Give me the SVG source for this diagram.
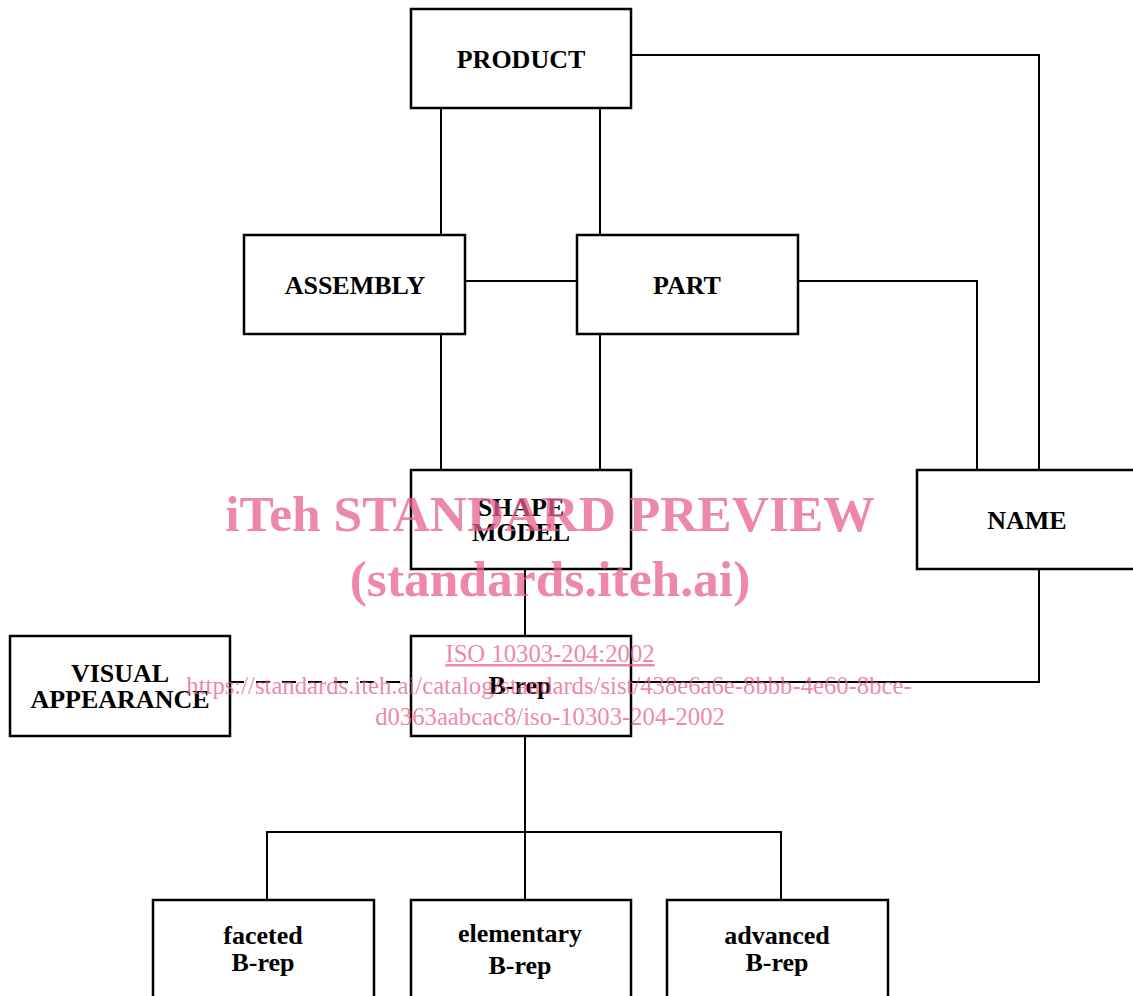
<svg xmlns="http://www.w3.org/2000/svg" width="1133" height="996" viewBox="0 0 1133 996">
<style>
.box{fill:#fff;stroke:#000;stroke-width:2.5}
.lbl{font-family:"Liberation Serif",serif;font-weight:bold;font-size:26px;fill:#000;text-anchor:middle}
.ln{fill:none;stroke:#000;stroke-width:2}
.wm{font-family:"Liberation Serif",serif;fill:#e8608e;fill-opacity:0.75;text-anchor:middle}
</style>
<rect width="1133" height="996" fill="#fff"/>
<g id="connectors">
<path class="ln" d="M441 108V235"/>
<path class="ln" d="M600 108V235"/>
<path class="ln" d="M631 55H1039V470"/>
<path class="ln" d="M465 281H577"/>
<path class="ln" d="M798 281H977V470"/>
<path class="ln" d="M441 334V470"/>
<path class="ln" d="M600 334V470"/>
<path class="ln" d="M525 569V636"/>
<path class="ln" d="M1039 569V682H631"/>
<path class="ln" d="M230 682H411" stroke-dasharray="14,12"/>
<path class="ln" d="M525 736V900"/>
<path class="ln" d="M267 900V832H781V900"/>
</g>
<g id="product"><rect class="box" x="411" y="9" width="220" height="99"/><text class="lbl" x="521" y="68">PRODUCT</text></g>
<g id="assembly"><rect class="box" x="244" y="235" width="221" height="99"/><text class="lbl" x="355" y="294">ASSEMBLY</text></g>
<g id="part"><rect class="box" x="577" y="235" width="221" height="99"/><text class="lbl" x="687" y="294">PART</text></g>
<g id="shape-model"><rect class="box" x="411" y="470" width="220" height="99"/><text class="lbl" x="521" y="516">SHAPE</text><text class="lbl" x="521" y="541">MODEL</text></g>
<g id="name"><rect class="box" x="917" y="470" width="230" height="99"/><text class="lbl" x="1027" y="529">NAME</text></g>
<g id="visual-appearance"><rect class="box" x="10" y="636" width="220" height="100"/><text class="lbl" x="120" y="682">VISUAL</text><text class="lbl" x="120" y="708">APPEARANCE</text></g>
<g id="brep"><rect class="box" x="411" y="636" width="220" height="100"/><text class="lbl" x="520" y="694">B-rep</text></g>
<g id="faceted"><rect class="box" x="153" y="900" width="221" height="110"/><text class="lbl" x="263" y="944">faceted</text><text class="lbl" x="263" y="971">B-rep</text></g>
<g id="elementary"><rect class="box" x="411" y="900" width="220" height="110"/><text class="lbl" x="520" y="942">elementary</text><text class="lbl" x="520" y="974">B-rep</text></g>
<g id="advanced"><rect class="box" x="667" y="900" width="221" height="110"/><text class="lbl" x="777" y="944">advanced</text><text class="lbl" x="777" y="971">B-rep</text></g>
<g id="watermark">
<text class="wm" x="550" y="531" font-size="51.5" font-weight="bold">iTeh STANDARD PREVIEW</text>
<text class="wm" x="550" y="596" font-size="51.5" font-weight="bold">(standards.iteh.ai)</text>
<text class="wm" x="550" y="662" font-size="24.7" text-decoration="underline">ISO 10303-204:2002</text>
<text class="wm" x="549" y="694" font-size="24.7">https://standards.iteh.ai/catalog/standards/sist/438e6a6e-8bbb-4e60-8bce-</text>
<text class="wm" x="550" y="725" font-size="24.7">d0363aabcac8/iso-10303-204-2002</text>
</g>
</svg>
